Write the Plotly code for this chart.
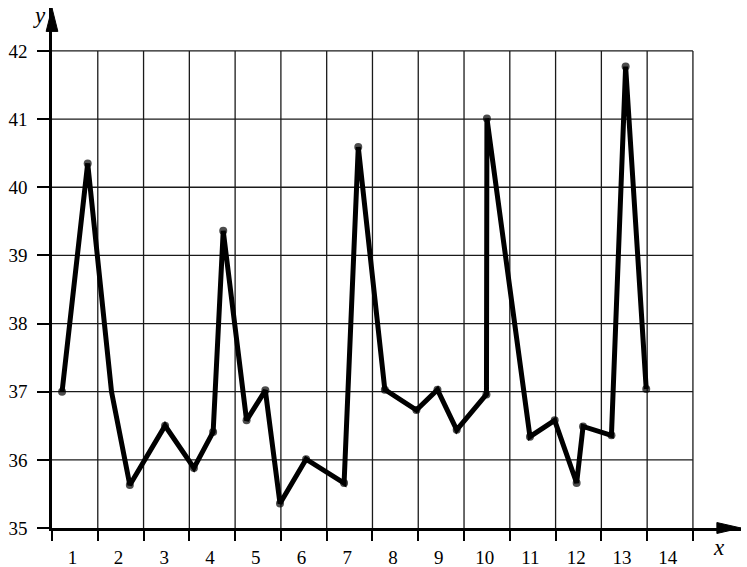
import plotly.graph_objects as go

# ---- data ----
x_vals = [0.22, 0.78, 1.30, 1.70, 2.47, 3.10, 3.52, 3.74, 4.25, 4.66, 4.98, 5.55, 6.38, 6.69,
          7.27, 7.96, 8.42, 8.84, 9.49, 9.49, 9.50, 10.44, 10.98, 11.46, 11.60, 12.22, 12.53, 12.98]
y_vals = [37.0, 40.35, 37.0, 35.63, 36.5, 35.88, 36.41, 39.36, 36.58, 37.02, 35.36, 36.01, 35.66, 40.59,
          37.03, 36.73, 37.03, 36.44, 36.96, 39.1, 41.01, 36.34, 36.58, 35.66, 36.49, 36.36, 41.77, 37.04]
is_vertex = [1, 1, 0, 1, 1, 1, 1, 1, 1, 1, 1, 1, 1, 1,
             1, 1, 1, 1, 1, 0, 1, 1, 1, 1, 1, 1, 1, 1]
x_tick_labels = [str(i) for i in range(1, 15)]
y_ticks = list(range(35, 43))
x_grid = list(range(0, 15))

FONT = "Times New Roman, Liberation Serif, serif"
X_MAX = 15.05
Y_MAX = 42.63

fig = go.Figure()
fig.add_trace(go.Scatter(
    x=x_vals, y=y_vals, mode="lines+markers",
    line=dict(color="black", width=5),
    marker=dict(color="black", size=[8 if v else 0 for v in is_vertex], line=dict(width=0)),
    showlegend=False, hoverinfo="skip", cliponaxis=False,
))

shapes = []
for gx in x_grid[1:]:
    shapes.append(dict(type="line", xref="x", yref="y", x0=gx, x1=gx, y0=y_ticks[0], y1=y_ticks[-1],
                       line=dict(color="#1a1a1a", width=1.3), layer="below"))
for gy in y_ticks[1:]:
    shapes.append(dict(type="line", xref="x", yref="y", x0=0, x1=x_grid[-1], y0=gy, y1=gy,
                       line=dict(color="#1a1a1a", width=1.3), layer="below"))
# arrowheads (paper coordinates so they are not clipped)
shapes.append(dict(type="path", xref="paper", yref="paper",
                   path="M 1.0 0 L 0.965 0.0105 L 0.965 -0.0105 Z",
                   fillcolor="black", line=dict(color="black", width=1)))
shapes.append(dict(type="path", xref="paper", yref="paper",
                   path="M 0 1.0 L 0.0085 0.955 L -0.0085 0.955 Z",
                   fillcolor="black", line=dict(color="black", width=1)))

fig.update_layout(
    width=747, height=567,
    margin=dict(l=52, r=6, t=8, b=39),
    paper_bgcolor="white", plot_bgcolor="white",
    shapes=shapes,
    xaxis=dict(range=[0, X_MAX], showgrid=False, zeroline=False, automargin=False,
               tickvals=[i + 0.45 for i in range(14)], ticktext=x_tick_labels,
               ticks="", showline=True, linecolor="black", linewidth=2.5,
               tickfont=dict(family=FONT, size=19, color="black"),
               ticklabelstandoff=10,
               minor=dict(tickvals=x_grid, ticks="outside", ticklen=10, tickwidth=1.5,
                          tickcolor="black", showgrid=False)),
    yaxis=dict(range=[35, Y_MAX], showgrid=False, zeroline=False, automargin=False,
               tickvals=y_ticks, ticks="outside", ticklen=12, tickwidth=1.5, tickcolor="black",
               showline=True, linecolor="black", linewidth=2.5,
               tickfont=dict(family=FONT, size=19, color="black"),
               ticklabelstandoff=6),
    annotations=[
        dict(x=-0.03, y=1.014, xref="paper", yref="paper", text="<i>y</i>", showarrow=False,
             yanchor="top", font=dict(family=FONT, size=23, color="black")),
        dict(x=0.98, y=-0.038, xref="paper", yref="paper", text="<i>x</i>", showarrow=False,
             yanchor="middle", font=dict(family=FONT, size=23, color="black")),
    ],
)

fig.write_html("out.html", config={"displayModeBar": False},
               post_script="document.body.style.margin='0';document.body.style.overflow='hidden';")
